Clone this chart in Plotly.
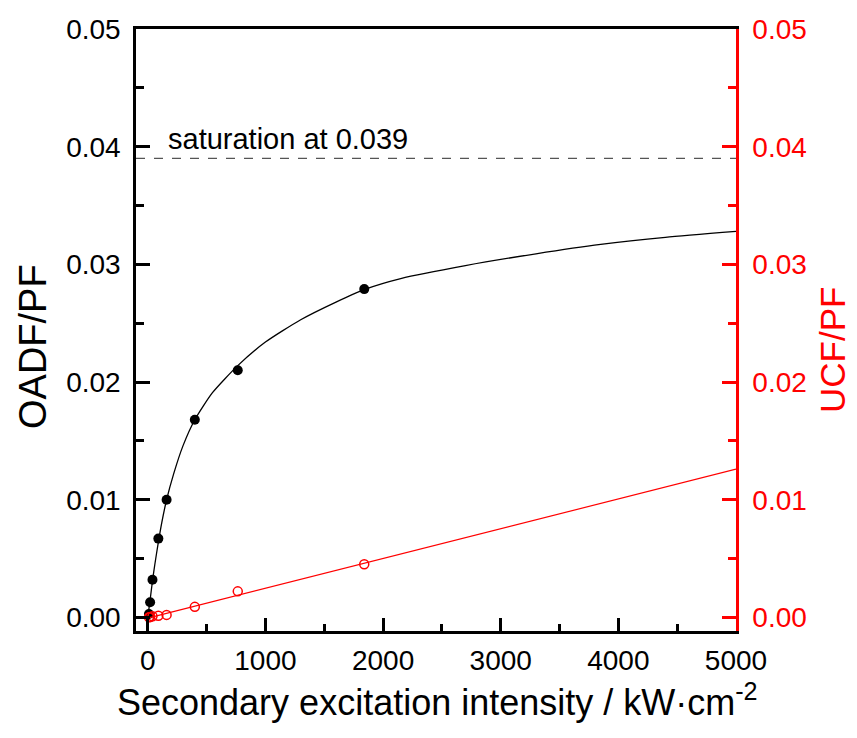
import plotly.graph_objects as go

# Measured data
intensity = [10, 20, 40, 90, 160, 400, 765, 1840]
oadf_pf = [0.0003, 0.0013, 0.0032, 0.0067, 0.0100, 0.0168, 0.0210, 0.0279]
ucf_pf = [0.00002, 0.00004, 0.00010, 0.00015, 0.00022, 0.00090, 0.00222, 0.00452]

# Fit curves
oadf_fit_x = [0, 10, 20, 40, 60, 90, 120, 160, 220, 300, 400, 550, 765, 1000, 1300,
              1600, 1850, 2150, 2700, 3300, 3850, 4400, 5000]
oadf_fit_y = [0.0, 0.00075, 0.0015, 0.0031, 0.0045, 0.0064, 0.0081, 0.0100, 0.0122, 0.0146,
              0.0168, 0.0191, 0.0214, 0.0234, 0.0253, 0.0268, 0.0279, 0.0288, 0.0299,
              0.0309, 0.0317, 0.0323, 0.0328]
ucf_fit_x = [0, 5000]
ucf_fit_y = [-0.00005, 0.0126]

saturation_x = [-100, 5000]
saturation_y = [0.039, 0.039]

x_ticks = [0, 1000, 2000, 3000, 4000, 5000]
y_ticks = [0.00, 0.01, 0.02, 0.03, 0.04, 0.05]

FONT = "Liberation Sans, Arial, sans-serif"
RED = "#ff0000"

fig = go.Figure()
fig.add_trace(go.Scatter(x=saturation_x, y=saturation_y, mode="lines",
                         line=dict(color="#555555", width=1.2, dash="dash"), showlegend=False))
fig.add_trace(go.Scatter(x=oadf_fit_x, y=oadf_fit_y, mode="lines",
                         line=dict(color="black", width=1.3, shape="spline", smoothing=0.6),
                         showlegend=False))
fig.add_trace(go.Scatter(x=intensity, y=oadf_pf, mode="markers",
                         marker=dict(color="black", size=10, symbol="circle"), showlegend=False))
fig.add_trace(go.Scatter(x=ucf_fit_x, y=ucf_fit_y, mode="lines", yaxis="y2",
                         line=dict(color=RED, width=1.2), showlegend=False))
fig.add_trace(go.Scatter(x=intensity, y=ucf_pf, mode="markers", yaxis="y2",
                         marker=dict(color=RED, size=9, symbol="circle-open",
                                     line=dict(color=RED, width=1.5)), showlegend=False))

fig.add_annotation(x=159, y=0.039, xref="x", yref="y", text="saturation at 0.039",
                   showarrow=False, xanchor="left", yanchor="bottom", yshift=1,
                   font=dict(family=FONT, size=29, color="black"))

# Axis titles
fig.add_annotation(x=(33 - 136) / 600, y=(631 - 347) / 602, xref="paper", yref="paper",
                   text="OADF/PF", textangle=-90, showarrow=False,
                   xanchor="center", yanchor="middle",
                   font=dict(family=FONT, size=38, color="black"))
fig.add_annotation(x=(832 - 136) / 600, y=(631 - 350) / 602, xref="paper", yref="paper",
                   text="UCF/PF", textangle=-90, showarrow=False,
                   xanchor="center", yanchor="middle",
                   font=dict(family=FONT, size=35, color=RED))
fig.add_annotation(x=(437 - 136) / 600, y=(631 - 700) / 602, xref="paper", yref="paper",
                   text="Secondary excitation intensity / kW·cm<sup>-2</sup>", showarrow=False,
                   xanchor="center", yanchor="middle",
                   font=dict(family=FONT, size=36, color="black"))

fig.update_layout(
    width=857, height=738,
    margin=dict(l=136, r=121, t=29, b=107),
    paper_bgcolor="white", plot_bgcolor="white",
    font=dict(family=FONT, color="black"),
    xaxis=dict(
        range=[-100, 5000], tickvals=x_ticks, ticktext=[str(v) for v in x_ticks],
        showline=True, linecolor="black", linewidth=2.5, mirror=True,
        ticks="inside", ticklen=13, tickwidth=2.5, tickcolor="black",
        minor=dict(dtick=500, tick0=0, ticks="inside", ticklen=7, tickwidth=2.5, tickcolor="black"),
        showgrid=False, zeroline=False,
        tickfont=dict(family=FONT, size=28, color="black"), ticklabelstandoff=3,
    ),
    yaxis=dict(
        range=[-0.00115, 0.05], tickvals=y_ticks, ticktext=[f"{v:.2f}" for v in y_ticks],
        showline=True, linecolor="black", linewidth=2.5,
        ticks="inside", ticklen=14, tickwidth=2.5, tickcolor="black",
        minor=dict(dtick=0.005, tick0=0, ticks="inside", ticklen=8, tickwidth=2.5, tickcolor="black"),
        showgrid=False, zeroline=False,
        tickfont=dict(family=FONT, size=28, color="black"), ticklabelstandoff=7,
    ),
    yaxis2=dict(
        range=[-0.00115, 0.05], tickvals=y_ticks, ticktext=[f"{v:.2f}" for v in y_ticks],
        overlaying="y", side="right",
        showline=True, linecolor=RED, linewidth=2.5,
        ticks="inside", ticklen=14, tickwidth=2.5, tickcolor=RED,
        minor=dict(dtick=0.005, tick0=0, ticks="inside", ticklen=8, tickwidth=2.5, tickcolor=RED),
        showgrid=False, zeroline=False,
        tickfont=dict(family=FONT, size=28, color=RED), ticklabelstandoff=8,
    ),
)

fig.write_html("out.html")
